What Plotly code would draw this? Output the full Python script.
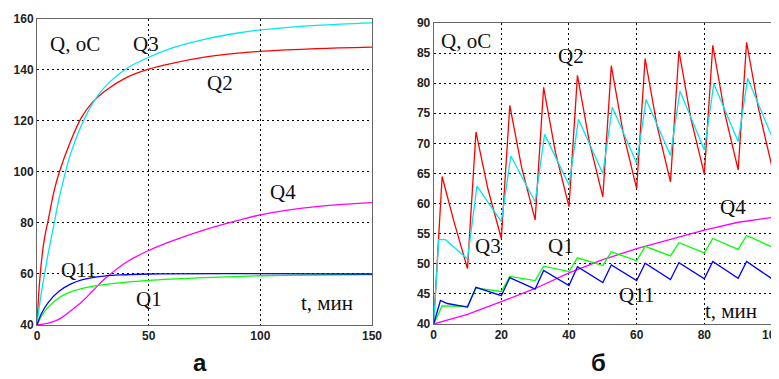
import plotly.graph_objects as go

# ---------- Panel "а" (0..150 min) ----------
t_q2a = [0, 1, 2, 3, 4, 5, 7.5, 10, 15, 20, 25, 30, 40, 50, 60, 75, 90, 100, 125, 150]
q2_a = [40, 55, 65, 72, 77, 81, 92, 100, 112, 121.5, 127.5, 131.5, 137, 140.3, 142.5, 145, 146.6, 147.3, 148.4, 149]

t_q3a = [0, 1, 2, 3, 4, 5, 7.5, 10, 15, 20, 25, 30, 40, 50, 60, 75, 90, 100, 125, 150]
q3_a = [40, 47, 53, 58, 63, 68, 79, 90, 107, 118.5, 127, 133, 140.5, 145, 148.5, 152, 154.5, 155.7, 157.5, 158.5]

t_q4a = [0, 5, 10, 15, 20, 25, 30, 40, 50, 60, 75, 90, 100, 125, 150]
q4_a = [40, 40.7, 42.3, 45.5, 49, 53.4, 57.8, 64.6, 69.2, 72.8, 77.3, 81, 83.2, 86.4, 88]

t_q1a = [0, 2, 5, 10, 15, 20, 30, 40, 50, 60, 75, 100, 125, 150]
q1_a = [40, 43.5, 47, 50.8, 53, 54.3, 55.8, 56.8, 57.5, 58, 58.6, 59.3, 59.6, 59.8]

t_q11a = [0, 2, 5, 10, 15, 20, 30, 40, 50, 150]
q11_a = [40, 44.5, 48.8, 53.3, 56, 57.7, 59.2, 59.7, 60, 60]

# ---------- Panel "б" (0..100 min) ----------
t_q2b = [0, 2.5, 6, 10, 12.5, 16, 20, 22.5, 26, 30, 32.5, 36, 40, 42.5, 46, 50,
         52.5, 56, 60, 62.5, 66, 70, 72.5, 76, 80, 82.5, 86, 90, 92.5, 96, 100]
q2_b = [40, 64.5, 57, 49.2, 71.9, 62.5, 54.2, 76.3, 66, 57.3, 79.3, 68.5, 59.5, 81.3, 70.3, 61.1,
        82.9, 71.8, 62.5, 84.1, 73, 63.6, 85.4, 74.2, 64.9, 86.3, 75.1, 65.6, 86.8, 75.8, 66.1]

t_q3b = [0, 1.5, 3.5, 10, 12.8, 20, 22.8, 30, 32.8, 40, 42.8, 50, 52.8, 60, 62.8, 70, 72.8, 80, 82.8, 90, 92.8, 100]
q3_b = [40, 54, 54, 50.8, 62.9, 57, 67.9, 60.3, 71.5, 63.1, 74, 65, 76, 66.7, 77.3, 68, 78.7, 68.9, 79.9, 70.3, 80.8, 71.1]

t_q1b = [0, 2.5, 10, 12.5, 20, 22.5, 30, 32.5, 40, 42.5, 50, 52.5, 60, 62.5, 70, 72.5, 80, 82.5, 90, 92.5, 100]
q1_b = [40, 43, 42.9, 46, 45.4, 47.9, 47.2, 49.6, 48.7, 51, 49.7, 52, 50.5, 52.9, 51.3, 53.5, 51.8, 54.2, 52.4, 54.7, 52.8]

t_q11b = [0, 2, 4, 10, 12.5, 20, 22.5, 30, 32.5, 40, 42.5, 50, 52.5, 60, 62.5, 70, 72.5, 80, 82.5, 90, 92.5, 100]
q11_b = [40, 43.9, 43.4, 42.8, 46.1, 44.7, 47.7, 45.8, 48.9, 46.4, 49.5, 46.9, 49.8, 47.2, 50.1, 47.4, 50.2, 47.5, 50.4, 47.6, 50.4, 47.5]

t_q4b = [0, 10, 20, 30, 40, 50, 60, 70, 80, 90, 100]
q4_b = [40, 41.6, 43.7, 45.9, 48.5, 50.7, 52.5, 54.1, 55.6, 56.9, 57.7]

RED, CYAN, MAG, GREEN, BLUE = "#ff0000", "#00e8f0", "#ff00ff", "#00ff00", "#0000ff"

fig = go.Figure()

def add(x, y, color, xa, ya, shape="spline"):
    fig.add_trace(go.Scatter(x=x, y=y, mode="lines", xaxis=xa, yaxis=ya,
                             line=dict(color=color, width=1.3, shape=shape),
                             showlegend=False, hoverinfo="skip"))

add(t_q2a, q2_a, RED, "x", "y")
add(t_q3a, q3_a, CYAN, "x", "y")
add(t_q4a, q4_a, MAG, "x", "y")
add(t_q1a, q1_a, GREEN, "x", "y")
add(t_q11a, q11_a, BLUE, "x", "y")

add(t_q2b, q2_b, RED, "x2", "y2", "linear")
add(t_q3b, q3_b, CYAN, "x2", "y2", "linear")
add(t_q4b, q4_b, MAG, "x2", "y2", "linear")
add(t_q1b, q1_b, GREEN, "x2", "y2", "linear")
add(t_q11b, q11_b, BLUE, "x2", "y2", "linear")

tickfont = dict(family="Liberation Sans, Arial", size=12, color="#222", weight="bold")
common = dict(showgrid=True, gridcolor="#000", griddash="2px,3px", gridwidth=1,
              zeroline=False, showline=True, linecolor="#666", linewidth=1, mirror=True,
              ticks="", tickfont=tickfont, fixedrange=True, automargin=False,
              ticklabeloverflow="allow")

# page body has an 8px margin, so the figure is 8px smaller and shifted
W, H = 771, 371
fig.update_layout(
    width=W, height=H,
    margin=dict(l=0, r=0, t=0, b=0, pad=0, autoexpand=False),
    paper_bgcolor="white", plot_bgcolor="white",
    xaxis=dict(domain=[0.0376, 0.4721], range=[0, 150], tickvals=[0, 50, 100, 150], anchor="y", **common),
    yaxis=dict(domain=[0.1456, 0.9704], range=[40, 160], tickvals=[40, 60, 80, 100, 120, 140, 160], anchor="x", **common),
    xaxis2=dict(domain=[0.5521, 0.9909], range=[0, 100], tickvals=[0, 20, 40, 60, 80, 100], anchor="y2", **common),
    yaxis2=dict(domain=[0.1483, 0.9596], range=[40, 90], tickvals=[40, 45, 50, 55, 60, 65, 70, 75, 80, 85, 90], anchor="x2", **common),
)

serif = dict(family="Liberation Serif, Times New Roman", size=21, color="#111")

def label(x, y, text, xref, yref):
    fig.add_annotation(x=x, y=y, xref=xref, yref=yref, text=text, showarrow=False,
                       font=serif, xanchor="center", yanchor="middle")

# panel а labels (data coordinates)
label(17, 150, "Q, oC", "x", "y")
label(49, 150, "Q3", "x", "y")
label(82, 135, "Q2", "x", "y")
label(110, 92, "Q4", "x", "y")
label(18.5, 61.5, "Q11", "x", "y")
label(50, 50, "Q1", "x", "y")
label(130, 48.5, "t, мин", "x", "y")

# panel б labels
label(9.7, 87, "Q, oC", "x2", "y2")
label(40.5, 84.5, "Q2", "x2", "y2")
label(88.5, 59.5, "Q4", "x2", "y2")
label(16, 53, "Q3", "x2", "y2")
label(37.5, 53, "Q1", "x2", "y2")
label(60, 44.8, "Q11", "x2", "y2")
label(88, 42.2, "t, мин", "x2", "y2")

bold = dict(family="Liberation Sans, Arial", size=24, color="#111", weight="bold")
fig.add_annotation(x=192 / W, y=1 - 354 / H, xref="paper", yref="paper", text="а",
                   showarrow=False, font=bold, xanchor="center", yanchor="middle")
fig.add_annotation(x=590 / W, y=1 - 354 / H, xref="paper", yref="paper", text="б",
                   showarrow=False, font=bold, xanchor="center", yanchor="middle")

fig.write_html("out.html")
